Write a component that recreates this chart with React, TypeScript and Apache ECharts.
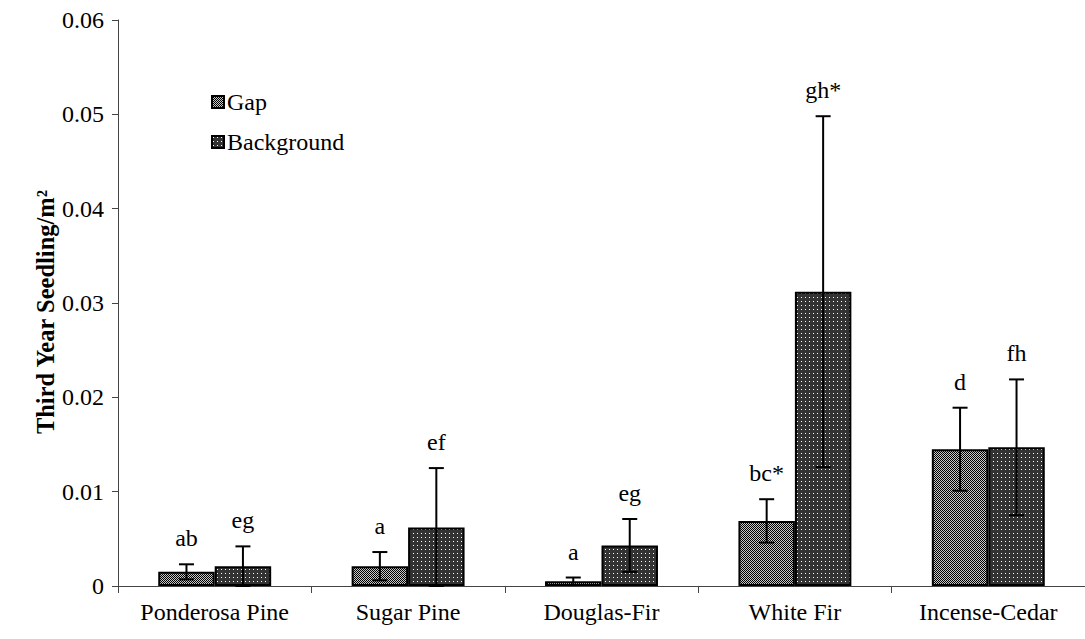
import React, { useEffect, useRef } from "react";
import * as echarts from "echarts";

const categories = ["Ponderosa Pine", "Sugar Pine", "Douglas-Fir", "White Fir", "Incense-Cedar"];
const gapValues = [0.0015, 0.0021, 0.0005, 0.0069, 0.0145];
const gapErrors = [0.0008, 0.0015, 0.0004, 0.0023, 0.0044];
const backgroundValues = [0.0021, 0.0062, 0.0043, 0.0312, 0.0147];
const backgroundErrors = [0.0021, 0.0063, 0.0028, 0.0186, 0.0072];
const gapLetters = ["ab", "a", "a", "bc*", "d"];
const backgroundLetters = ["eg", "ef", "eg", "gh*", "fh"];
const yTickLabels = ["0", "0.01", "0.02", "0.03", "0.04", "0.05", "0.06"];

const FONT = "Liberation Serif";
const CAT_GAP = 0.416;

function makePattern(kind: "gap" | "bg") {
  const c = document.createElement("canvas");
  c.width = 4;
  c.height = 4;
  const ctx = c.getContext("2d")!;
  if (kind === "gap") {
    for (let x = 0; x < 4; x++) {
      for (let y = 0; y < 4; y++) {
        ctx.fillStyle = (x + y) % 2 === 0 ? "#000000" : "#c8c8c8";
        ctx.fillRect(x, y, 1, 1);
      }
    }
  } else {
    ctx.fillStyle = "#333333";
    ctx.fillRect(0, 0, 4, 4);
    ctx.fillStyle = "#ffffff";
    ctx.fillRect(1, 1, 1, 1);
  }
  return { image: c.toDataURL(), repeat: "repeat", imageWidth: 4, imageHeight: 4 } as any;
}

export default function App() {
  const ref = useRef<HTMLDivElement>(null);
  useEffect(() => {
    if (!ref.current) return;
    const chart = echarts.init(ref.current, null, { renderer: "svg" });
    const gapFill = makePattern("gap");
    const bgFill = makePattern("bg");

    const errData: number[][] = [];
    const errLetters: string[] = [];
    categories.forEach((_, i) => {
      errData.push([i, gapValues[i], gapErrors[i], 0]);
      errLetters.push(gapLetters[i]);
      errData.push([i, backgroundValues[i], backgroundErrors[i], 1]);
      errLetters.push(backgroundLetters[i]);
    });

    chart.setOption({
      animation: false,
      backgroundColor: "#ffffff",
      grid: { left: 118, top: 20, bottom: 53, width: 977.5, containLabel: false },
      legend: {
        orient: "vertical",
        left: 206,
        top: 85,
        itemWidth: 12,
        itemHeight: 12,
        itemGap: 16,
        icon: "rect",
        textStyle: { fontFamily: FONT, fontSize: 24, color: "#000", padding: [0, 0, 0, -2] },
        data: ["Gap", "Background"],
      },
      xAxis: {
        type: "category",
        data: categories,
        boundaryGap: true,
        axisLine: { lineStyle: { color: "#444", width: 1 } },
        axisTick: { show: true, length: 7, lineStyle: { color: "#444" } },
        axisLabel: { fontFamily: FONT, fontSize: 24, color: "#000", margin: 14, interval: 0 },
      },
      yAxis: {
        type: "value",
        min: 0,
        max: 0.06,
        interval: 0.01,
        name: "Third Year Seedling/m²",
        nameLocation: "middle",
        nameRotate: 90,
        nameGap: 60,
        nameMoveOverlap: false,
        nameTextStyle: {
          fontFamily: FONT,
          fontSize: 24.5,
          fontWeight: "bold",
          color: "#000",
          padding: [0, 18, 0, 0],
        },
        axisLine: { show: true, lineStyle: { color: "#444", width: 1 } },
        axisTick: { show: true, length: 6, lineStyle: { color: "#444" } },
        splitLine: { show: false },
        axisLabel: {
          fontFamily: FONT,
          fontSize: 24,
          color: "#000",
          margin: 14,
          formatter: (v: number) => yTickLabels[Math.round(v * 100)] ?? String(v),
        },
      },
      series: [
        {
          name: "Gap",
          type: "bar",
          data: gapValues,
          barGap: "0%",
          barCategoryGap: CAT_GAP * 100 + "%",
          itemStyle: { color: gapFill, borderColor: "#000", borderWidth: 2 },
        },
        {
          name: "Background",
          type: "bar",
          data: backgroundValues,
          barGap: "0%",
          barCategoryGap: CAT_GAP * 100 + "%",
          itemStyle: { color: bgFill, borderColor: "#000", borderWidth: 2 },
        },
        {
          type: "custom",
          z: 10,
          data: errData,
          encode: { x: 0, y: 1 },
          renderItem: (params: any, api: any) => {
            const cat = api.value(0);
            const v = api.value(1);
            const e = api.value(2);
            const s = api.value(3);
            const catW = api.size([1, 0])[0];
            const barW = (catW * (1 - CAT_GAP)) / 2;
            const cx = api.coord([cat, 0])[0] + (s === 0 ? -barW / 2 : barW / 2);
            const yTop = api.coord([cat, v + e])[1];
            const yBot = api.coord([cat, Math.max(0, v - e)])[1];
            const cap = 7.5;
            const ls = { stroke: "#000", lineWidth: 2 };
            return {
              type: "group",
              children: [
                { type: "line", shape: { x1: cx, y1: yTop, x2: cx, y2: yBot }, style: ls },
                { type: "line", shape: { x1: cx - cap, y1: yTop, x2: cx + cap, y2: yTop }, style: ls },
                { type: "line", shape: { x1: cx - cap, y1: yBot, x2: cx + cap, y2: yBot }, style: ls },
                {
                  type: "text",
                  x: cx,
                  y: yTop - 26,
                  style: {
                    text: errLetters[params.dataIndex],
                    fontFamily: FONT,
                    fontSize: 24,
                    fill: "#000",
                    align: "center",
                    verticalAlign: "middle",
                  },
                },
              ],
            };
          },
        },
      ],
    });
    return () => chart.dispose();
  }, []);
  return (
    <div
      ref={ref}
      style={{ position: "absolute", left: 0, top: 0, width: 1085, height: 639 }}
    />
  );
}
